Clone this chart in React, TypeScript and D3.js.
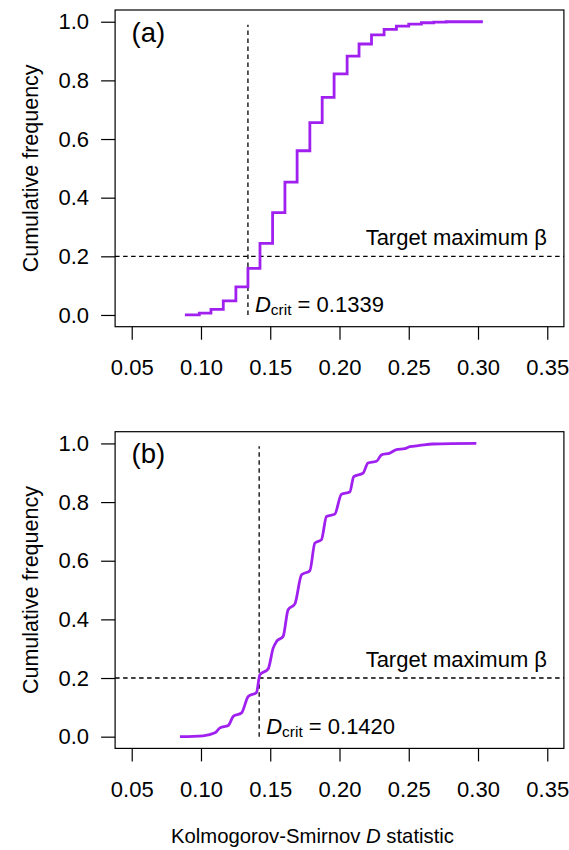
import * as d3 from 'd3';
import React, { useEffect, useRef } from 'react';

// x-axis ticks
const xTicks = [0.05, 0.1, 0.15, 0.2, 0.25, 0.3, 0.35];
const yTicks = [0, 0.2, 0.4, 0.6, 0.8, 1.0];

// panel (a): empirical step function (D value, cumulative frequency)
const stepD = [0.0884, 0.0988, 0.1072, 0.1161, 0.1252, 0.1339, 0.1426, 0.1517, 0.1606, 0.1694, 0.1786,
    0.1875, 0.1961, 0.2055, 0.2141, 0.2231, 0.2322, 0.2411, 0.25, 0.2591, 0.268, 0.277, 0.3035];
const stepF = [0, 0.006, 0.019, 0.048, 0.096, 0.159, 0.244, 0.349, 0.453, 0.56, 0.656,
    0.742, 0.822, 0.883, 0.924, 0.955, 0.974, 0.985, 0.992, 0.9966, 0.9985, 1.0, 1.0];

// panel (b): smoothed curve
const smoothD = [0.0848, 0.1016, 0.1101, 0.1137, 0.1197, 0.1233, 0.1293, 0.1341, 0.1401, 0.1425, 0.1485,
    0.1521, 0.1546, 0.1593, 0.1629, 0.1678, 0.1726, 0.1786, 0.1822, 0.187, 0.1906, 0.1966, 0.2014,
    0.2074, 0.2103, 0.217, 0.2206, 0.2267, 0.2303, 0.2363, 0.2411, 0.2471, 0.2507, 0.2579, 0.2675, 0.2988];
const smoothF = [0, 0.003, 0.013, 0.03, 0.038, 0.069, 0.081, 0.137, 0.151, 0.211, 0.231,
    0.302, 0.325, 0.342, 0.433, 0.453, 0.552, 0.566, 0.66, 0.672, 0.751, 0.759, 0.827,
    0.834, 0.887, 0.899, 0.933, 0.939, 0.961, 0.967, 0.979, 0.982, 0.989, 0.993, 0.998, 1.0];

const panelLabels = ['(a)', '(b)'];
const dCrit = [0.1339, 0.142];
const dCritText = ['0.1339', '0.1420'];
const betaTarget = 0.2;

const App = () => {
    const svgRef = useRef(null);

    useEffect(() => {
        const width = 569;
        const height = 850;
        const font = 'Liberation Sans, Arial, sans-serif';
        const purple = '#a020f0';

        const svg = d3.select(svgRef.current);
        svg.selectAll('*').remove();
        svg.attr('width', width).attr('height', height);

        const xScale = d3.scaleLinear().domain([0.038, 0.362]).range([115.1, 563.9]);

        const drawPanel = (i, offset) => {
            const yScale = d3.scaleLinear().domain([-0.04, 1.04]).range([326.7 + offset, 10 + offset]);
            const g = svg.append('g');

            // box
            g.append('rect')
                .attr('x', xScale(0.038)).attr('y', yScale(1.04))
                .attr('width', xScale(0.362) - xScale(0.038))
                .attr('height', yScale(-0.04) - yScale(1.04))
                .attr('fill', 'none').attr('stroke', '#000').attr('stroke-width', 1.2);

            // x axis
            const xa = g.append('g')
                .attr('transform', `translate(0,${yScale(-0.04)})`)
                .call(d3.axisBottom(xScale).tickValues(xTicks).tickSize(13).tickPadding(20)
                    .tickFormat(d3.format('.2f')));
            xa.select('.domain').remove();
            xa.selectAll('line').attr('stroke', '#000').attr('stroke-width', 1.2);
            xa.selectAll('text').style('font-family', font).style('font-size', '22px').attr('fill', '#000');

            // y axis
            const ya = g.append('g')
                .attr('transform', `translate(${xScale(0.038)},0)`)
                .call(d3.axisLeft(yScale).tickValues(yTicks).tickSize(14).tickPadding(12)
                    .tickFormat(d3.format('.1f')));
            ya.select('.domain').remove();
            ya.selectAll('line').attr('stroke', '#000').attr('stroke-width', 1.2);
            ya.selectAll('text').style('font-family', font).style('font-size', '22px').attr('fill', '#000');

            // y title
            g.append('text')
                .attr('transform', `translate(38,${(yScale(-0.04) + yScale(1.04)) / 2}) rotate(-90)`)
                .attr('text-anchor', 'middle')
                .style('font-family', font).style('font-size', '21.5px')
                .text('Cumulative frequency');

            // reference lines
            g.append('line')
                .attr('x1', xScale(0.038)).attr('x2', xScale(0.362))
                .attr('y1', yScale(betaTarget)).attr('y2', yScale(betaTarget))
                .attr('stroke', '#000').attr('stroke-width', 1.3).attr('stroke-dasharray', '4.5,3.5');
            g.append('line')
                .attr('x1', xScale(dCrit[i])).attr('x2', xScale(dCrit[i]))
                .attr('y1', yScale(0)).attr('y2', yScale(0.99))
                .attr('stroke', '#000').attr('stroke-width', 1.3).attr('stroke-dasharray', '4.5,3.5');

            // curve
            const pts = i === 0
                ? stepD.map((d, k) => [d, stepF[k]])
                : smoothD.map((d, k) => [d, smoothF[k]]);
            g.append('path')
                .datum(pts)
                .attr('fill', 'none')
                .attr('stroke', purple)
                .attr('stroke-width', 2.8)
                .attr('d', d3.line()
                    .x(d => xScale(d[0]))
                    .y(d => yScale(d[1]))
                    .curve(i === 0 ? d3.curveStepAfter : d3.curveMonotoneX));

            // labels
            g.append('text')
                .attr('x', 547).attr('y', yScale(betaTarget) - 11)
                .attr('text-anchor', 'end')
                .style('font-family', font).style('font-size', '22px')
                .text('Target maximum β');

            const dt = g.append('text')
                .attr('x', xScale(dCrit[i]) + 7).attr('y', yScale(0) - 2.5)
                .style('font-family', font).style('font-size', '22px');
            dt.append('tspan').attr('font-style', 'italic').text('D');
            dt.append('tspan').attr('font-size', '15.5px').attr('dy', 3).text('crit');
            dt.append('tspan').attr('dy', -3).text(` = ${dCritText[i]}`);

            g.append('text')
                .attr('x', 131.5).attr('y', 41.7 + offset)
                .style('font-family', font).style('font-size', '27.5px')
                .text(panelLabels[i]);
        };

        drawPanel(0, 0);
        drawPanel(1, 421.7);

        // x title
        const xt = svg.append('text')
            .attr('x', 312.5).attr('y', 843)
            .attr('text-anchor', 'middle')
            .style('font-family', font).style('font-size', '20.3px');
        xt.append('tspan').text('Kolmogorov-Smirnov ');
        xt.append('tspan').attr('font-style', 'italic').text('D');
        xt.append('tspan').text(' statistic');
    }, []);

    return <svg ref={svgRef} style={{ position: 'absolute', left: 0, top: 0 }}></svg>;
};

export default App;
